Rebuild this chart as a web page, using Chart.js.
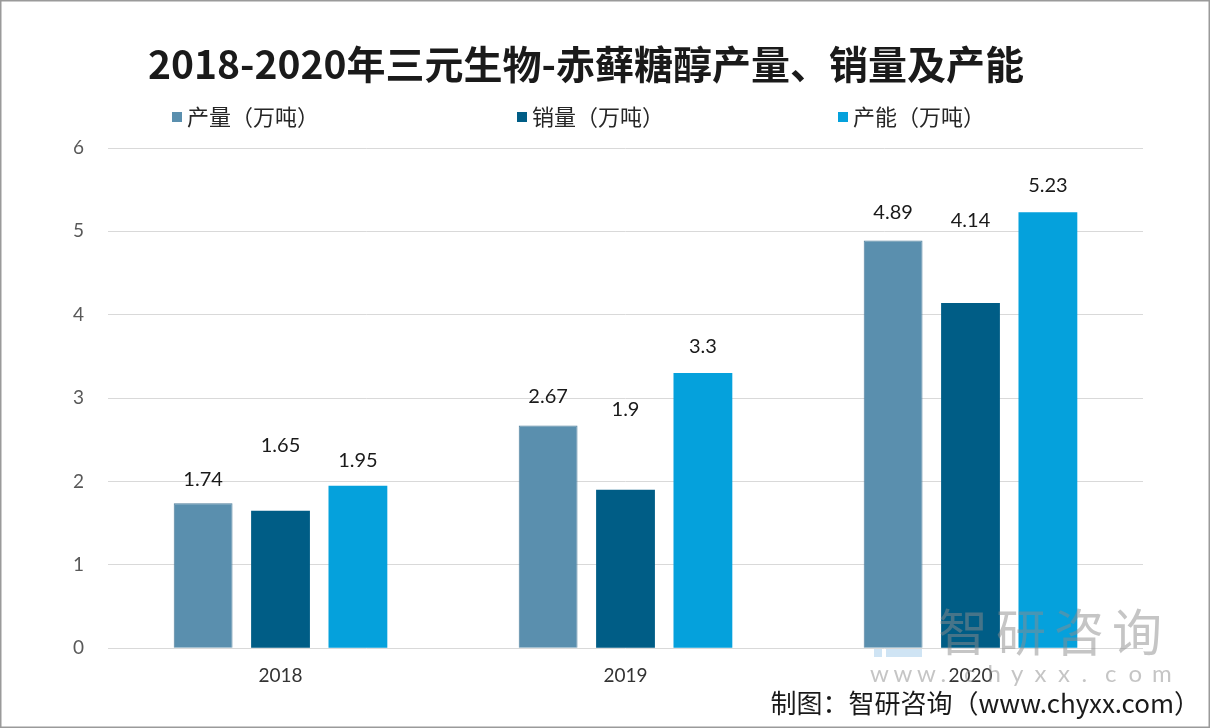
<!DOCTYPE html>
<html>
<head>
<meta charset="utf-8">
<script src="https://cdn.jsdelivr.net/npm/chart.js@4.4.1/dist/chart.umd.min.js"></script>
<style>
html,body{margin:0;padding:0;background:#ffffff;}
#wrap{width:1210px;height:728px;position:relative;}
</style>
</head>
<body>
<div id="wrap"><canvas id="c" width="1210" height="728"></canvas></div>
<script>
const categories = ['2018', '2019', '2020'];
const seriesNames = ['产量（万吨）', '销量（万吨）', '产能（万吨）'];
const production = [1.74, 2.67, 4.89];
const sales = [1.65, 1.9, 4.14];
const capacity = [1.95, 3.3, 5.23];
const yTickValues = [0, 1, 2, 3, 4, 5, 6];
const titleText = '2018-2020年三元生物-赤藓糖醇产量、销量及产能';
const sourceText = '制图：智研咨询（www.chyxx.com）';

const colors = ['#5a8fae', '#005d86', '#05a1dc'];
const CJK = '"Noto Sans CJK SC", "Noto Sans", sans-serif';
const NUM = 'Lato, "Noto Sans", sans-serif';

const decorPlugin = {
  id: 'decor',
  beforeDraw(chart) {
    const ctx = chart.ctx;
    ctx.save();
    ctx.fillStyle = '#ffffff';
    ctx.fillRect(0, 0, chart.width, chart.height);
    ctx.restore();
  },
  afterDatasetsDraw(chart, args, opts) {
    const ctx = chart.ctx;
    // data labels
    ctx.save();
    ctx.font = '20px ' + NUM;
    ctx.fillStyle = '#1a1a1a';
    ctx.textAlign = 'center';
    ctx.textBaseline = 'middle';
    chart.data.datasets.forEach((ds, di) => {
      const meta = chart.getDatasetMeta(di);
      meta.data.forEach((el, i) => {
        const off = opts.labelOffsets[di][i];
        ctx.fillText(String(ds.data[i]), el.x, el.y - off);
      });
    });
    ctx.restore();

    // watermark
    ctx.save();
    ctx.globalAlpha = 0.5;
    ctx.fillStyle = '#8c8c8c';
    ctx.font = '50px ' + CJK;
    ctx.textAlign = 'left';
    ctx.textBaseline = 'middle';
    const wm = '智研咨询';
    for (let k = 0; k < wm.length; k++) {
      ctx.fillText(wm[k], 938 + k * 58, 632);
    }
    ctx.font = '24px ' + NUM;
    const url = 'www.chyxx.com';
    for (let k = 0; k < url.length; k++) {
      ctx.fillText(url[k], 870 + k * 23.5, 674);
    }
    ctx.fillStyle = '#9fc9ea';
    ctx.fillRect(874, 649, 8, 8);
    ctx.fillRect(886, 649, 36, 8);
    ctx.restore();
  },
  afterDraw(chart, args, opts) {
    const ctx = chart.ctx;
    ctx.save();
    // title
    ctx.font = 'bold 39px ' + CJK;
    ctx.fillStyle = '#1a1a1a';
    ctx.textAlign = 'center';
    ctx.textBaseline = 'middle';
    ctx.fillText(titleText, 586, 64);
    // legend
    ctx.font = '22px ' + CJK;
    ctx.textAlign = 'left';
    opts.legendX.forEach((x, i) => {
      ctx.fillStyle = colors[i];
      ctx.fillRect(x, 112, 10, 10);
      ctx.fillStyle = '#262626';
      ctx.fillText(seriesNames[i], x + 15, 117);
    });
    // source
    ctx.font = '26px ' + CJK;
    ctx.textAlign = 'right';
    ctx.fillStyle = '#1a1a1a';
    ctx.fillText(sourceText, 1200, 703);
    // frame
    ctx.strokeStyle = '#9a9a9a';
    ctx.lineWidth = 3;
    ctx.strokeRect(0, 0, chart.width, chart.height);
    ctx.restore();
  }
};

new Chart(document.getElementById('c'), {
  type: 'bar',
  data: {
    labels: categories,
    datasets: [
      { label: seriesNames[0], data: production, backgroundColor: colors[0], borderColor: '#4f7f9c', borderWidth: 1 },
      { label: seriesNames[1], data: sales, backgroundColor: colors[1], borderColor: colors[1], borderWidth: 0 },
      { label: seriesNames[2], data: capacity, backgroundColor: colors[2], borderColor: colors[2], borderWidth: 0 }
    ]
  },
  options: {
    responsive: false,
    animation: false,
    devicePixelRatio: 1,
    layout: { padding: { top: 148, bottom: 25, left: 49, right: 67 } },
    datasets: { bar: { categoryPercentage: 0.673, barPercentage: 0.76 } },
    plugins: {
      legend: { display: false },
      title: { display: false },
      tooltip: { enabled: false },
      decor: {
        labelOffsets: [[24, 29, 28], [65, 80, 83], [25, 27, 27]],
        legendX: [172, 517, 838]
      }
    },
    scales: {
      x: {
        grid: { display: false, drawTicks: false },
        border: { display: false },
        ticks: { color: '#333333', font: { family: NUM, size: 19 }, padding: 16 }
      },
      y: {
        min: 0,
        max: 6,
        afterBuildTicks(scale) { scale.ticks = yTickValues.map(v => ({ value: v })); },
        grid: { color: '#d9d9d9', lineWidth: 1, drawTicks: false },
        border: { display: false },
        ticks: { color: '#595959', font: { family: NUM, size: 19 }, padding: 24 }
      }
    }
  },
  plugins: [decorPlugin]
});
</script>
</body>
</html>
